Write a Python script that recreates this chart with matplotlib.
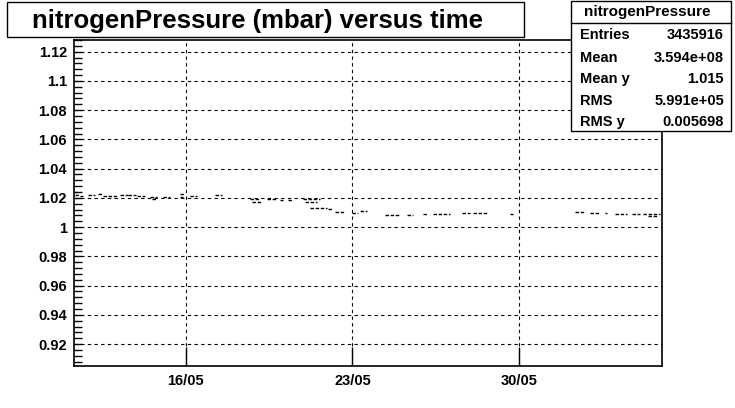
import datetime as dt
import matplotlib
matplotlib.use("Agg")
import matplotlib.pyplot as plt
import matplotlib.dates as mdates
from matplotlib.patches import Rectangle
from matplotlib.ticker import MultipleLocator, FuncFormatter

# =========================
# DATA (day of May, fractional; >31 runs into June)
# =========================

seg_start = [11.35, 11.35, 11.56, 11.90, 12.32, 12.53, 13.24, 13.58, 13.95, 14.50,
             14.60, 15.05, 15.76, 15.76, 16.18, 17.23, 18.70, 18.78, 19.41, 19.96,
             20.30, 20.93, 21.00, 21.22, 21.97, 22.27, 22.98, 23.32, 24.37, 25.29,
             25.97, 26.39, 27.61, 28.07, 29.62, 32.35, 32.98, 33.61, 34.03, 34.75,
             35.21, 35.40]
seg_end = [11.45, 11.50, 11.69, 12.19, 12.53, 13.11, 13.58, 13.90, 14.29, 14.79,
           14.75, 15.34, 15.97, 15.90, 16.47, 17.52, 19.12, 19.20, 19.84, 20.09,
           20.51, 21.64, 21.50, 21.93, 22.14, 22.69, 23.23, 23.61, 25.00, 25.55,
           26.18, 27.10, 27.94, 28.65, 29.75, 32.77, 33.40, 33.69, 34.54, 35.08,
           35.92, 35.80]
seg_value = [1.0238, 1.0222, 1.0214, 1.0218, 1.0225, 1.0214, 1.0221, 1.0218, 1.0214, 1.0207,
             1.0195, 1.0207, 1.0225, 1.0207, 1.0214, 1.0221, 1.0193, 1.0175, 1.0193, 1.0186,
             1.0186, 1.0190, 1.0170, 1.0130, 1.0125, 1.0104, 1.0097, 1.0110, 1.0085, 1.0085,
             1.0090, 1.0088, 1.0097, 1.0095, 1.0092, 1.0104, 1.0097, 1.0097, 1.0090, 1.0090,
             1.0090, 1.0077]

TITLE = "nitrogenPressure (mbar) versus time"
STATS_NAME = "nitrogenPressure"
STATS_LABELS = ["Entries", "Mean", "Mean y", "RMS", "RMS y"]
STATS_VALUES = ["3435916", "3.594e+08", "1.015", "5.991e+05", "0.005698"]

X_START = 11.31
X_END = 36.0
Y_MIN = 0.905
Y_MAX = 1.128

# =========================
# HELPERS
# =========================

W, H = 735, 408
BASE = dt.datetime(2011, 5, 1)


def to_date(day):
    return mdates.date2num(BASE + dt.timedelta(days=day - 1))


def fx(px):
    return px / W


def fy(py):
    return 1 - py / H


FONT = "Liberation Sans"

# =========================
# FIGURE
# =========================

fig = plt.figure(figsize=(W / 100, H / 100), dpi=100)
fig.patch.set_facecolor("white")

ax = fig.add_axes([fx(74), fy(366), fx(662) - fx(74), fy(40) - fy(366)])

ax.hlines(seg_value,
          [to_date(d) for d in seg_start],
          [to_date(d) for d in seg_end],
          colors="black", linewidth=1.0, linestyles=(0, (2.5, 1.2)))

ax.set_xlim(to_date(X_START), to_date(X_END))
ax.set_ylim(Y_MIN, Y_MAX)

ax.xaxis.set_major_locator(mdates.DayLocator(bymonthday=[16, 23, 30]))
ax.xaxis.set_major_formatter(mdates.DateFormatter("%d/%m"))
ax.yaxis.set_major_locator(MultipleLocator(0.02))
ax.yaxis.set_minor_locator(MultipleLocator(0.004))
ax.yaxis.set_major_formatter(FuncFormatter(lambda v, _: f"{round(v, 3):g}"))

ax.grid(True, which="major", color="black", linestyle=(0, (3, 3)), linewidth=0.8)

ax.tick_params(axis="y", which="both", direction="in", length=6, width=1, pad=5,
               labelsize=10.5)
ax.tick_params(axis="x", which="major", direction="in", length=14, width=1, pad=6,
               labelsize=10.5)
for lbl in ax.get_xticklabels() + ax.get_yticklabels():
    lbl.set_fontfamily(FONT)
    lbl.set_fontweight("bold")

for side in ["left", "bottom", "right", "top"]:
    ax.spines[side].set_linewidth(1.2)
    ax.spines[side].set_color("black")

# title box
fig.patches.append(Rectangle((fx(7), fy(37)), fx(524) - fx(7), fy(2) - fy(37),
                             transform=fig.transFigure, facecolor="white",
                             edgecolor="black", linewidth=1.0))
fig.text(fx(258), fy(21), TITLE, ha="center", va="center",
         fontsize=18.5, fontweight="bold", family=FONT)

# stats box
fig.patches.append(Rectangle((fx(571), fy(131)), fx(731) - fx(571), fy(1) - fy(131),
                             transform=fig.transFigure, facecolor="white",
                             edgecolor="black", linewidth=1.0, zorder=5))
fig.lines.append(plt.Line2D([fx(571), fx(731)], [fy(23), fy(23)],
                            transform=fig.transFigure, color="black",
                            linewidth=1.0, zorder=6))
fig.text(fx(647), fy(12), STATS_NAME, ha="center", va="center",
         fontsize=11, fontweight="bold", family=FONT, zorder=7)
row_y = [35, 58, 79, 101, 122]
for lab, val, y in zip(STATS_LABELS, STATS_VALUES, row_y):
    fig.text(fx(580), fy(y), lab, ha="left", va="center",
             fontsize=10.5, fontweight="bold", family=FONT, zorder=7)
    fig.text(fx(724), fy(y), val, ha="right", va="center",
             fontsize=10.5, fontweight="bold", family=FONT, zorder=7)

fig.savefig("out.png", dpi=100)
